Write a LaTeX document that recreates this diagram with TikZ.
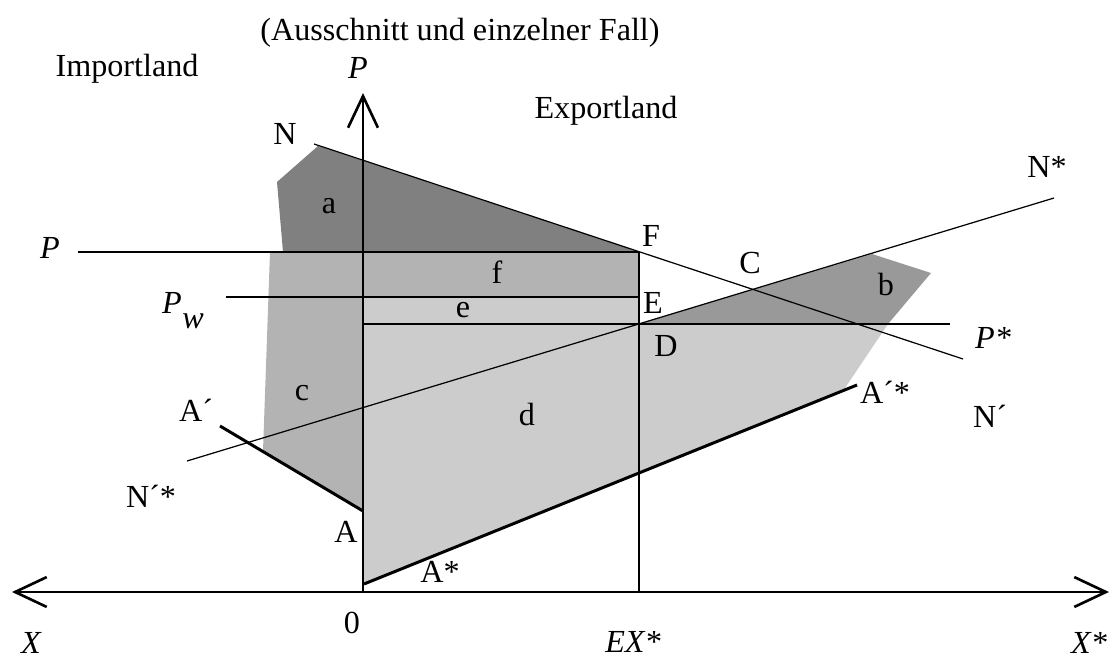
\documentclass[tikz,border=0pt]{standalone}
\usepackage{fontspec}
\setmainfont{Liberation Serif}
\usetikzlibrary{arrows.meta}
\definecolor{shadea}{HTML}{808080}
\definecolor{shadeb}{HTML}{999999}
\definecolor{shadec}{HTML}{B3B3B3}
\definecolor{shaded}{HTML}{CCCCCC}

\begin{document}
\begin{tikzpicture}[x=0.02cm,y=-0.02cm,
    lbl/.style={font=\fontsize{18.3}{22}\selectfont,anchor=base,inner sep=0pt},
    ital/.style={lbl,font=\fontsize{18.3}{22}\selectfont\itshape},
    thinline/.style={line width=0.7pt},
    thickline/.style={line width=1.7pt},
    axis/.style={line width=1.5pt},
    barb/.tip={Straight Barb[length=18pt,width=17pt]}]
  \useasboundingbox (0,0) rectangle (1112,659);
  % key points
  \coordinate (O) at (363,592);
  \coordinate (Ptop) at (363,93);
  \coordinate (Xl) at (12,592);
  \coordinate (Xr) at (1109,592);
  \coordinate (F) at (639,252);
  \coordinate (E) at (639,297);
  \coordinate (D) at (639,324);
  \coordinate (EX) at (639,592);
  \coordinate (Pl) at (78,252);
  \coordinate (Pwl) at (226,297);
  \coordinate (Pwax) at (363,297);
  \coordinate (Dax) at (363,324);
  \coordinate (Pr) at (950,324);
  \coordinate (N) at (314,144);
  \coordinate (Nr) at (963,359);
  \coordinate (Ns) at (1054,198);
  \coordinate (Nsl) at (187,461);
  \coordinate (Al) at (220,426);
  \coordinate (A) at (363,511);
  \coordinate (As) at (364,584);
  \coordinate (Asr) at (857,385);
  % shaded areas
  \fill[shadea] (318,146) -- (F) -- (283,252) -- (277,182) -- cycle;
  \fill[shadec] (270,252) -- (F) -- (E) -- (Pwax) -- (A) -- (263,451) -- cycle;
  \fill[shaded] (Pwax) -- (E) -- (D) -- (888,324) -- (843,391) -- (As) -- cycle;
  \fill[shadeb] (D) -- (872,254) -- (931,273) -- (888,324) -- cycle;
  % curves
  \draw[thinline] (N) -- (Nr);
  \draw[thinline] (Nsl) -- (Ns);
  \draw[thinline] (EX) -- (F);
  \draw[thickline] (Pl) -- (F);
  \draw[thickline] (Pwl) -- (E);
  \draw[thickline] (Dax) -- (Pr);
  \draw[thickline] (Al) -- (A);
  \draw[thickline] (As) -- (Asr);
  % axes
  \draw[axis,barb-barb] (Xl) -- (Xr);
  \draw[axis,-barb] (O) -- (Ptop);
  % labels
  \node[lbl] (title) at (460,40) {(Ausschnitt und einzelner Fall)};
  \node[lbl] (imp) at (127,76) {Importland};
  \node[ital] (Plab) at (358,78) {P};
  \node[lbl] (exp) at (606,118) {Exportland};
  \node[lbl] (Nlab) at (285,144) {N};
  \node[lbl] (alab) at (329,213) {a};
  \node[lbl] (Flab) at (651,246) {F};
  \node[ital] (Pleft) at (50,258) {P};
  \node[lbl] (flab) at (497,283) {f};
  \node[ital] (Pwlab) at (172,313) {P};
  \node[ital] (wlab) at (193,328) {w};
  \node[lbl] (elab) at (463,317) {e};
  \node[lbl] (Elab) at (653,313) {E};
  \node[lbl] (Clab) at (750,273) {C};
  \node[lbl] (blab) at (886,295) {b};
  \node[lbl] (Nslab) at (1047,177) {N*};
  \node[lbl] (Dlab) at (666,356) {D};
  \node[ital] (Pslab) at (993,348) {P*};
  \node[lbl] (Asrlab) at (885,403) {A´*};
  \node[lbl] (Nrlab) at (990,427) {N´};
  \node[lbl] (clab) at (302,400) {c};
  \node[lbl] (Allab) at (196,421) {A´};
  \node[lbl] (dlab) at (527,425) {d};
  \node[lbl] (Nsllab) at (151,507) {N´*};
  \node[lbl] (Alab) at (346,542) {A};
  \node[lbl] (Aslab) at (440,582) {A*};
  \node[lbl] (Olab) at (352,633) {0};
  \node[ital] (EXlab) at (633,652) {EX*};
  \node[ital] (Xllab) at (31,653) {X};
  \node[ital] (Xrlab) at (1089,653) {X*};
\end{tikzpicture}
\end{document}
